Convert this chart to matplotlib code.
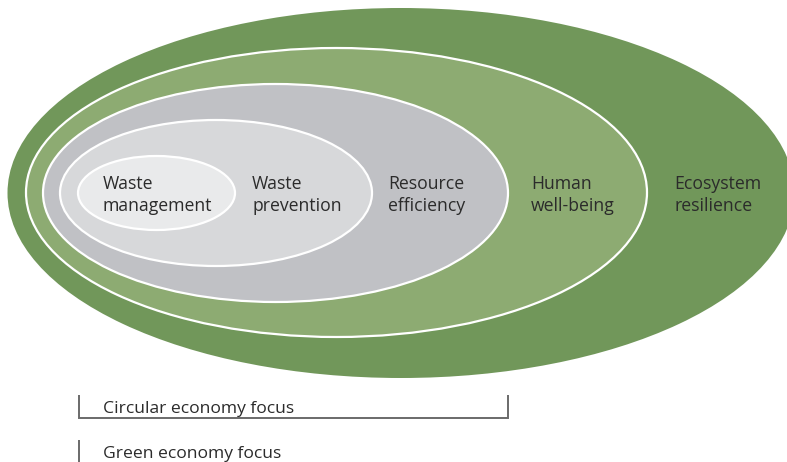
import matplotlib
matplotlib.use("Agg")
import matplotlib.pyplot as plt
from matplotlib.patches import Ellipse

# Data: nested concepts from outermost to innermost
labels = ["Ecosystem\nresilience", "Human\nwell-being", "Resource\nefficiency",
          "Waste\nprevention", "Waste\nmanagement"]
bracket_labels = ["Circular economy focus", "Green economy focus"]

# Layout (pixel coordinates, y downward)
centers = [(401, 193), (336.5, 192.5), (275.5, 193), (216, 193), (156.5, 193)]
sizes = [(787, 370), (621, 289), (465, 218), (312, 146), (157, 74)]
fills = ["#71975a", "#8dab72", "#c0c1c5", "#d7d8da", "#e9eaeb"]
label_x = [674, 531, 388, 252, 103]

plt.rcParams['font.family'] = ['Open Sans', 'DejaVu Sans']
fig = plt.figure(figsize=(7.87, 4.62), dpi=100)
ax = fig.add_axes([0, 0, 1, 1])
ax.set_xlim(0, 787)
ax.set_ylim(462, 0)
ax.axis('off')

for i, ((cx, cy), (w, h), c) in enumerate(zip(centers, sizes, fills)):
    ec = 'none' if i == 0 else 'white'
    ax.add_patch(Ellipse((cx, cy), w, h, facecolor=c, edgecolor=ec, lw=1.6, zorder=i + 1))

for lab, x in zip(labels, label_x):
    ax.text(x, 195, lab, fontsize=12.7, color='#2b2b2b', ha='left', va='center',
            linespacing=1.3, zorder=10)

# Bracket for circular economy
lc = '#6a6a6a'
ax.plot([78.5, 78.5, 508, 508], [395, 418, 418, 395], color=lc, lw=1.4,
        solid_capstyle='butt', solid_joinstyle='miter')
ax.text(103, 413, bracket_labels[0], fontsize=12.6, color='#2b2b2b', ha='left', va='baseline')
# Green economy marker
ax.plot([78.5, 78.5], [440, 462], color=lc, lw=1.4, solid_capstyle='butt')
ax.text(103, 458, bracket_labels[1], fontsize=12.6, color='#2b2b2b', ha='left', va='baseline')

fig.savefig("out.png", dpi=100)
